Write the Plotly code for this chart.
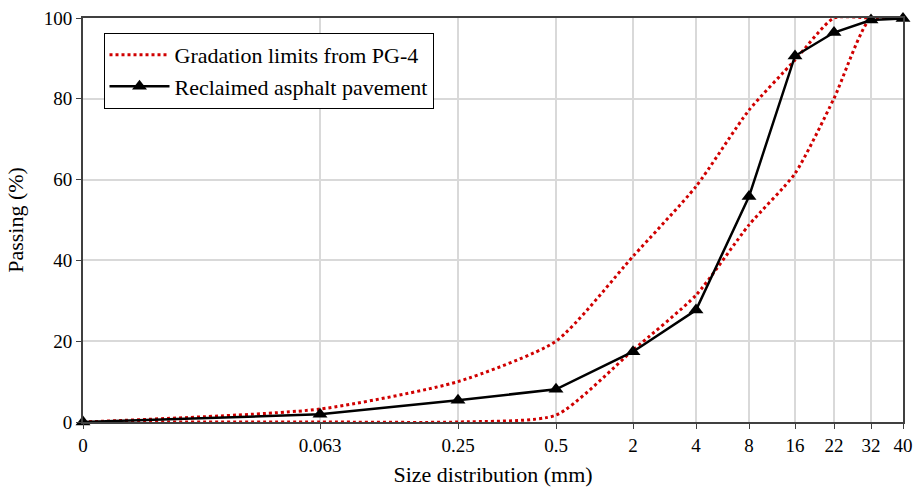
import plotly.graph_objects as go

# Sieve sizes (mm) shown on the x axis
sieve_labels = ["0", "0.063", "0.25", "0.5", "2", "4", "8", "16", "22", "32", "40"]
# Custom (non-linear) sieve axis scale used by the original chart
sieve_scale = [0, 237, 375, 473, 550, 613, 666, 712, 751, 788, 820]

# Passing (%)
upper_limit = [0, 3.2, 10.0, 20.0, 41.0, 58.3, 77.2, 89.6, 100, 100, 100]
lower_limit = [0, 0, 0, 1.7, 17.8, 31.4, 48.8, 61.5, 80.1, 100, 100]
rap = [0, 1.9, 5.4, 8.1, 17.4, 27.7, 55.8, 90.6, 96.4, 99.5, 99.9]

FONT = "Liberation Serif, Times New Roman, serif"
RED = "#D00000"

fig = go.Figure()
fig.add_trace(go.Scatter(
    x=sieve_scale, y=upper_limit, mode="lines", name="Gradation limits from PG-4",
    line=dict(color=RED, width=3, dash="dot", shape="spline", smoothing=0.6),
    legendgroup="lim", showlegend=True))
fig.add_trace(go.Scatter(
    x=sieve_scale, y=lower_limit, mode="lines", name="Gradation limits from PG-4",
    line=dict(color=RED, width=3, dash="dot", shape="spline", smoothing=0.6),
    legendgroup="lim", showlegend=False))
fig.add_trace(go.Scatter(
    x=sieve_scale, y=rap, mode="lines+markers", name="Reclaimed asphalt pavement",
    line=dict(color="black", width=2.5),
    marker=dict(symbol="triangle-up", size=13, color="black"),
    cliponaxis=False))

fig.update_layout(
    width=914, height=494,
    margin=dict(l=83, r=11, t=18, b=72, autoexpand=False),
    paper_bgcolor="white", plot_bgcolor="white",
    font=dict(family=FONT, size=18, color="black"),
    legend=dict(x=0.025, y=0.963, xanchor="left", yanchor="top",
                bordercolor="black", borderwidth=1, bgcolor="white",
                font=dict(size=22, family=FONT), tracegroupgap=0,
                itemwidth=60),
    xaxis=dict(
        range=[0, 820], tickmode="array", tickvals=sieve_scale, ticktext=sieve_labels,
        showgrid=True, gridcolor="#D9D9D9", gridwidth=1.5,
        showline=True, linecolor="#404040", linewidth=2, mirror=True,
        ticks="outside", ticklen=5, tickcolor="#404040",
        zeroline=False, automargin=False,
        title=dict(text="Size distribution (mm)", font=dict(size=22), standoff=12),
        tickfont=dict(size=19)),
    yaxis=dict(
        range=[0, 100], tickvals=[0, 20, 40, 60, 80, 100],
        showgrid=True, gridcolor="#D9D9D9", gridwidth=1.5,
        showline=True, linecolor="#404040", linewidth=2, mirror=True,
        ticks="outside", ticklen=5, tickcolor="#404040",
        zeroline=False, automargin=False,
        title=dict(text="Passing (%)", font=dict(size=22), standoff=14),
        tickfont=dict(size=19)),
)

fig.write_html("out.html")
